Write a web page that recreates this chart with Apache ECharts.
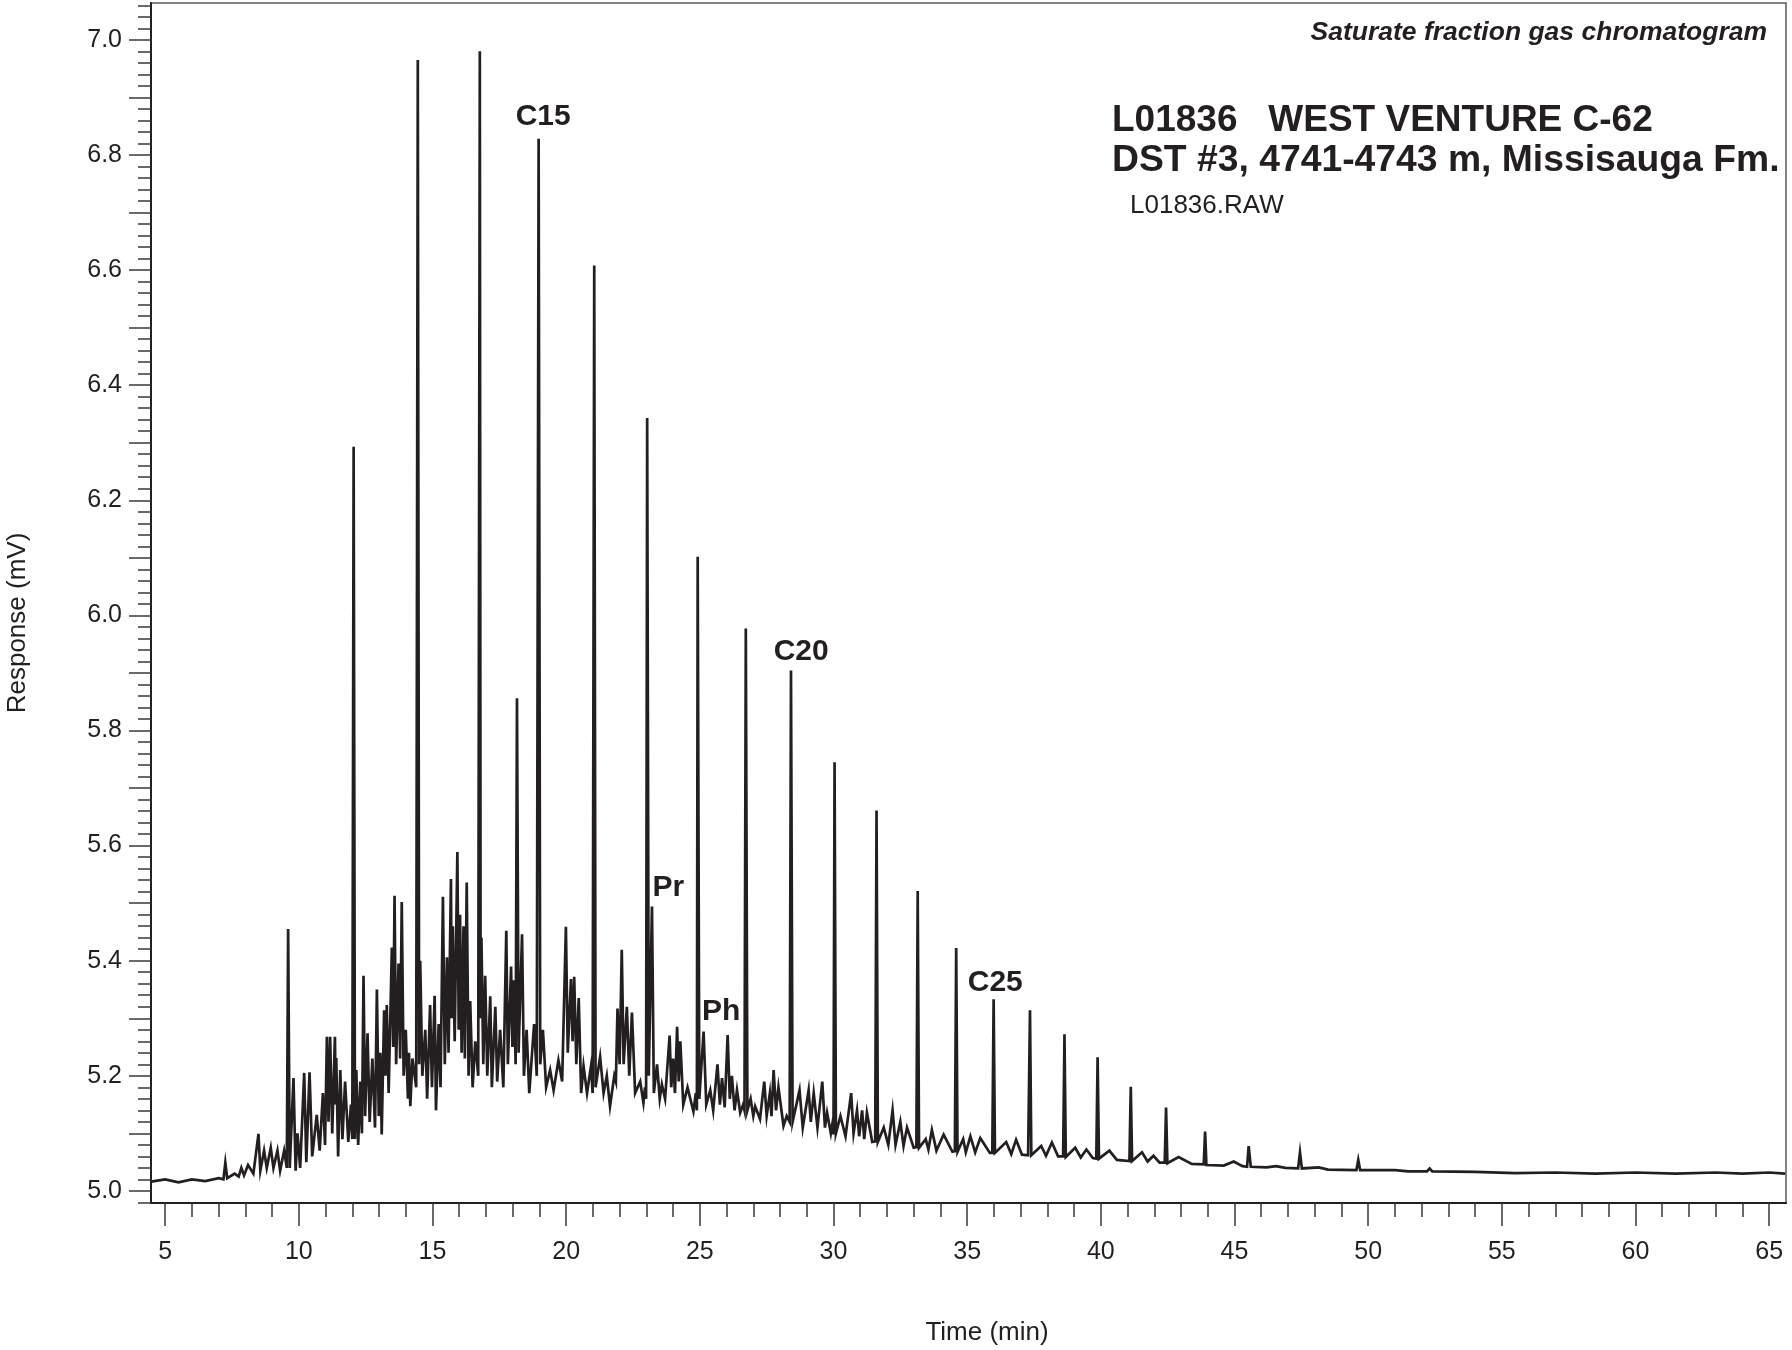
<!DOCTYPE html>
<html>
<head>
<meta charset="utf-8">
<script src="https://cdn.jsdelivr.net/npm/echarts@6/dist/echarts.min.js"></script>
<style>
html,body{margin:0;padding:0;background:#fff;}
#chart{width:1792px;height:1350px;}
</style>
</head>
<body>
<div id="chart"></div>
<script>
// ---- Data ----
// Peak apexes: [time (min), response (mV)]
var apexes = [
[5.0,5.020],[6.0,5.020],[7.0,5.022],[7.25,5.049],[7.6,5.030],[7.85,5.040],[8.1,5.045],[8.49,5.099],[8.7,5.070],[8.95,5.075],
[9.2,5.070],[9.45,5.070],[9.60,5.455],[9.80,5.196],[9.95,5.100],[10.20,5.205],[10.40,5.206],[10.67,5.132],[10.90,5.170],[11.05,5.268],
[11.17,5.268],[11.35,5.268],[11.40,5.231],[11.55,5.210],[11.73,5.190],[11.95,5.150],[12.05,6.293],[12.15,5.210],[12.30,5.190],[12.42,5.374],
[12.57,5.274],[12.75,5.230],[12.92,5.350],[13.05,5.240],[13.19,5.314],[13.29,5.323],[13.48,5.423],[13.58,5.513],[13.73,5.395],[13.85,5.502],
[14.00,5.280],[14.12,5.240],[14.25,5.230],[14.45,6.965],[14.54,5.400],[14.73,5.280],[14.91,5.323],[15.08,5.339],[15.23,5.290],[15.39,5.511],
[15.54,5.406],[15.69,5.542],[15.76,5.460],[15.93,5.589],[16.03,5.480],[16.16,5.460],[16.28,5.536],[16.41,5.330],[16.60,5.260],[16.77,6.980],
[16.83,5.440],[16.97,5.374],[17.16,5.338],[17.35,5.320],[17.53,5.280],[17.76,5.452],[17.94,5.390],[18.04,5.366],[18.16,5.856],[18.35,5.446],
[18.52,5.280],[18.80,5.290],[18.97,6.828],[19.13,5.280],[19.40,5.210],[19.71,5.227],[19.99,5.459],[20.18,5.368],[20.30,5.372],[20.47,5.335],
[20.65,5.217],[20.93,5.217],[21.05,6.608],[21.27,5.233],[21.52,5.200],[21.80,5.200],[21.92,5.317],[22.08,5.419],[22.27,5.320],[22.46,5.310],
[22.77,5.190],[22.95,5.180],[23.03,6.343],[23.21,5.494],[23.40,5.220],[23.58,5.185],[23.87,5.270],[24.00,5.230],[24.15,5.285],[24.27,5.260],
[24.54,5.180],[24.85,5.170],[24.92,6.102],[25.14,5.277],[25.39,5.175],[25.66,5.220],[25.83,5.196],[26.04,5.271],[26.20,5.200],[26.39,5.175],
[26.62,5.150],[26.72,5.977],[26.90,5.160],[27.07,5.147],[27.41,5.190],[27.62,5.170],[27.76,5.210],[27.94,5.180],[28.25,5.130],[28.41,5.904],
[28.73,5.175],[29.07,5.175],[29.26,5.170],[29.58,5.190],[29.76,5.136],[29.97,5.120],[30.04,5.745],[30.26,5.130],[30.66,5.170],[30.88,5.140],
[31.07,5.140],[31.25,5.136],[31.61,5.661],[31.88,5.110],[32.21,5.140],[32.50,5.120],[32.75,5.110],[33.15,5.521],[33.45,5.090],[33.68,5.106],
[34.12,5.098],[34.59,5.422],[34.85,5.090],[35.12,5.095],[35.49,5.092],[35.99,5.333],[36.46,5.085],[36.83,5.089],[37.35,5.314],[37.77,5.078],
[38.17,5.084],[38.64,5.272],[39.04,5.075],[39.46,5.072],[39.88,5.232],[40.32,5.070],[41.12,5.181],[41.54,5.067],[41.97,5.061],[42.44,5.145],
[42.91,5.059],[43.90,5.103],[44.97,5.051],[45.53,5.078],[46.55,5.043],[47.45,5.067],[48.15,5.041],[49.63,5.054],[51.0,5.036],[52.3,5.039],
[54.0,5.033],[57.0,5.032],[60.0,5.032],[63.0,5.032],[65.0,5.032]
];
// Troughs / baseline between peaks: [time (min), response (mV)]
var valleys = [
[4.47,5.016],[5.5,5.015],[6.5,5.017],[7.18,5.020],[7.32,5.022],[7.75,5.025],[7.95,5.027],[8.3,5.030],[8.56,5.035],[8.8,5.040],
[9.05,5.040],[9.3,5.035],[9.55,5.040],[9.66,5.040],[9.88,5.035],[10.05,5.040],[10.28,5.050],[10.50,5.060],[10.78,5.070],[10.98,5.080],
[11.11,5.120],[11.25,5.100],[11.38,5.150],[11.47,5.060],[11.63,5.090],[11.85,5.085],[12.00,5.090],[12.10,5.090],[12.22,5.080],[12.36,5.100],
[12.48,5.130],[12.65,5.120],[12.85,5.110],[12.99,5.130],[13.10,5.098],[13.24,5.200],[13.36,5.170],[13.53,5.250],[13.64,5.220],[13.79,5.230],
[13.92,5.200],[14.08,5.160],[14.17,5.147],[14.39,5.180],[14.50,5.220],[14.62,5.200],[14.80,5.160],[14.98,5.180],[15.13,5.140],[15.30,5.180],
[15.46,5.220],[15.60,5.240],[15.72,5.300],[15.83,5.260],[15.98,5.280],[16.09,5.240],[16.21,5.230],[16.35,5.200],[16.50,5.180],[16.71,5.200],
[16.80,5.300],[16.90,5.220],[17.05,5.200],[17.22,5.180],[17.42,5.190],[17.65,5.180],[17.82,5.220],[17.99,5.250],[18.11,5.220],[18.22,5.240],
[18.42,5.200],[18.62,5.170],[18.90,5.200],[19.03,5.220],[19.25,5.180],[19.53,5.175],[19.85,5.190],[20.06,5.240],[20.24,5.260],[20.38,5.220],
[20.56,5.170],[20.78,5.170],[20.99,5.170],[21.10,5.180],[21.40,5.170],[21.64,5.147],[21.86,5.190],[22.00,5.220],[22.15,5.220],[22.36,5.200],
[22.58,5.170],[22.89,5.153],[22.99,5.160],[23.09,5.200],[23.28,5.170],[23.50,5.160],[23.70,5.160],[23.93,5.180],[24.07,5.170],[24.21,5.190],
[24.38,5.150],[24.76,5.138],[24.89,5.140],[24.98,5.160],[25.24,5.150],[25.50,5.140],[25.75,5.150],[25.93,5.145],[26.12,5.160],[26.30,5.140],
[26.51,5.136],[26.67,5.140],[26.78,5.140],[27.00,5.130],[27.25,5.125],[27.50,5.130],[27.68,5.130],[27.85,5.140],[28.13,5.113],[28.36,5.120],
[28.47,5.120],[28.85,5.110],[29.15,5.120],[29.40,5.110],[29.68,5.110],[29.90,5.100],[30.00,5.098],[30.09,5.100],[30.45,5.095],[30.75,5.100],
[30.96,5.095],[31.15,5.090],[31.45,5.085],[31.56,5.086],[31.66,5.085],[32.05,5.080],[32.32,5.080],[32.62,5.078],[33.00,5.075],[33.10,5.076],
[33.20,5.075],[33.55,5.072],[33.85,5.070],[34.45,5.068],[34.54,5.069],[34.64,5.068],[34.95,5.067],[35.30,5.067],[35.85,5.066],[35.94,5.066],
[36.04,5.066],[36.65,5.064],[37.05,5.063],[37.28,5.062],[37.40,5.062],[37.95,5.061],[38.40,5.060],[38.59,5.060],[38.69,5.059],[39.25,5.058],
[39.70,5.057],[39.83,5.056],[39.93,5.056],[40.6,5.054],[41.07,5.052],[41.17,5.052],[41.75,5.051],[42.2,5.049],[42.39,5.049],[42.49,5.048],
[43.4,5.047],[43.85,5.046],[43.95,5.045],[44.6,5.044],[45.3,5.043],[45.47,5.042],[45.61,5.042],[46.2,5.041],[46.9,5.040],[47.38,5.039],
[47.52,5.039],[48.5,5.037],[49.56,5.036],[49.70,5.036],[51.5,5.034],[52.2,5.034],[52.4,5.034],[55.5,5.031],[58.5,5.030],[61.5,5.030],
[64.0,5.030],[65.6,5.030]
];
// Peak annotations (text centre in data coordinates)
var peakLabelNames = ['C15','Pr','Ph','C20','C25'];
var peakLabelTimes = [19.14, 23.82, 25.80, 28.79, 36.05];
var peakLabelResponses = [6.866, 5.526, 5.311, 5.936, 5.362];
// Tick labels
var xTickLabels = [5,10,15,20,25,30,35,40,45,50,55,60,65];
var yTickLabels = [5.0,5.2,5.4,5.6,5.8,6.0,6.2,6.4,6.6,6.8,7.0];

// ---- Build series ----
var trace = apexes.concat(valleys).sort(function(a,b){return a[0]-b[0];});
var labelData = peakLabelNames.map(function(n,i){return [peakLabelTimes[i], peakLabelResponses[i], n];});

// tick positions
var xMinorTicks = []; for (var i=5;i<=65;i++) xMinorTicks.push(i);
var yMajorTicks = []; for (var k=50;k<=70;k++) yMajorTicks.push(k/10);
var yMinorTicks = []; for (var m=249;m<=353;m++) yMinorTicks.push(Math.round(m*2)/100);

var FONT = 'Liberation Sans, Arial, Helvetica, sans-serif';
var INK = '#231f20';
var TICK = '#3a3a3a';

var chart = echarts.init(document.getElementById('chart'), null, {renderer:'canvas'});
chart.setOption({
  animation:false,
  backgroundColor:'#ffffff',
  grid:{left:151,right:6,top:3,bottom:147,show:true,borderColor:'#5a5a5a',borderWidth:1.5,backgroundColor:'transparent'},
  xAxis:[{
    type:'value', min:4.47, max:65.63,
    axisLine:{show:true,onZero:false,lineStyle:{color:INK,width:2}},
    axisTick:{show:true,length:23,customValues:xTickLabels,lineStyle:{color:TICK,width:1.5}},
    axisLabel:{show:true,customValues:xTickLabels,fontSize:25,fontFamily:FONT,color:INK,margin:37},
    splitLine:{show:false}
  },{
    type:'value', min:4.47, max:65.63, position:'bottom',
    axisLine:{show:false},
    axisTick:{show:true,length:14,customValues:xMinorTicks,lineStyle:{color:TICK,width:1.5}},
    axisLabel:{show:false},
    splitLine:{show:false}
  }],
  yAxis:[{
    type:'value', min:4.979, max:7.064,
    axisLine:{show:true,onZero:false,lineStyle:{color:INK,width:2}},
    axisTick:{show:true,length:22,customValues:yMajorTicks,lineStyle:{color:TICK,width:1.5}},
    axisLabel:{show:true,customValues:yTickLabels,fontSize:25,fontFamily:FONT,color:INK,margin:29,
      formatter:function(v){return Number(v).toFixed(1);}},
    splitLine:{show:false}
  },{
    type:'value', min:4.979, max:7.064, position:'left',
    axisLine:{show:false},
    axisTick:{show:true,length:13,customValues:yMinorTicks,lineStyle:{color:TICK,width:1.5}},
    axisLabel:{show:false},
    splitLine:{show:false}
  }],
  series:[{
    type:'line', xAxisIndex:0, yAxisIndex:0,
    data:trace, showSymbol:false, symbol:'none', smooth:false, sampling:null,
    lineStyle:{color:INK,width:2.7,join:'miter'},
    z:3
  },{
    type:'scatter', xAxisIndex:0, yAxisIndex:0,
    data:labelData, symbolSize:0, silent:true,
    itemStyle:{opacity:1,color:INK},
    label:{show:true,position:'inside',opacity:1,formatter:function(p){return p.data[2];},
      fontSize:30,fontWeight:'bold',fontFamily:FONT,color:INK},
    z:4
  }],
  graphic:[
    {type:'text',x:1767,y:33,style:{text:'Saturate fraction gas chromatogram',font:'italic bold 26.5px '+FONT,fill:INK,align:'right',verticalAlign:'middle'}},
    {type:'text',x:1112,y:121,style:{text:'L01836   WEST VENTURE C-62',font:'bold 37px '+FONT,fill:INK,align:'left',verticalAlign:'middle'}},
    {type:'text',x:1112,y:161,style:{text:'DST #3, 4741-4743 m, Missisauga Fm.',font:'bold 37.3px '+FONT,fill:INK,align:'left',verticalAlign:'middle'}},
    {type:'text',x:1130,y:206,style:{text:'L01836.RAW',font:'26px '+FONT,fill:INK,align:'left',verticalAlign:'middle'}},
    {type:'text',x:987,y:1333,style:{text:'Time (min)',font:'26px '+FONT,fill:INK,align:'center',verticalAlign:'middle'}},
    {type:'text',x:18,y:623,rotation:Math.PI/2,style:{text:'Response (mV)',font:'26px '+FONT,fill:INK,align:'center',verticalAlign:'middle'}}
  ]
});
</script>
</body>
</html>
